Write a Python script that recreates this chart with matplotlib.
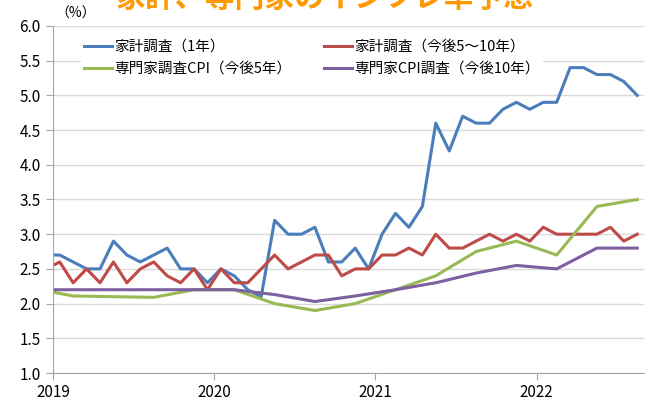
import numpy as np
import matplotlib
matplotlib.use("Agg")
import matplotlib.pyplot as plt

# ==========================================================
# Data (month index 0 = Jan 2019, points drawn at mid-month)
# ==========================================================

months = np.arange(-1, 44)          # Dec 2018 .. Aug 2022
quarters = np.arange(-2, 44, 3)     # expert surveys, every 3 months

household_1y = [2.7,
                2.7, 2.6, 2.5, 2.5, 2.9, 2.7, 2.6, 2.7, 2.8, 2.5, 2.5, 2.3,
                2.5, 2.4, 2.2, 2.1, 3.2, 3.0, 3.0, 3.1, 2.6, 2.6, 2.8, 2.5,
                3.0, 3.3, 3.1, 3.4, 4.6, 4.2, 4.7, 4.6, 4.6, 4.8, 4.9, 4.8,
                4.9, 4.9, 5.4, 5.4, 5.3, 5.3, 5.2, 5.0]
household_5_10y = [2.5,
                   2.6, 2.3, 2.5, 2.3, 2.6, 2.3, 2.5, 2.6, 2.4, 2.3, 2.5, 2.2,
                   2.5, 2.3, 2.3, 2.5, 2.7, 2.5, 2.6, 2.7, 2.7, 2.4, 2.5, 2.5,
                   2.7, 2.7, 2.8, 2.7, 3.0, 2.8, 2.8, 2.9, 3.0, 2.9, 3.0, 2.9,
                   3.1, 3.0, 3.0, 3.0, 3.0, 3.1, 2.9, 3.0]
expert_cpi_5y = [2.22, 2.11, 2.10, 2.09, 2.2, 2.2, 2.0, 1.9, 2.0, 2.2,
                 2.4, 2.75, 2.9, 2.7, 3.4, 3.5]
expert_cpi_10y = [2.2, 2.2, 2.2, 2.2, 2.2, 2.2, 2.13, 2.03, 2.11, 2.2,
                  2.3, 2.44, 2.55, 2.5, 2.8, 2.8]

year_labels = ["2019", "2020", "2021", "2022"]
labels = ["家計調査（1年）", "家計調査（今後5～10年）",
          "専門家調査CPI（今後5年）", "専門家CPI調査（今後10年）"]
colors = ["#4a7ebb", "#be4b48", "#98b954", "#7d60a0"]

plt.rcParams['font.family'] = ['Noto Sans CJK JP', 'DejaVu Sans']

# ==========================================================
# Figure
# ==========================================================

fig = plt.figure(figsize=(6.52, 4.01), dpi=100)
ax = fig.add_axes([0.0813, 0.0698, 0.9064, 0.8654])

l1, = ax.plot(months + 0.5, household_1y, color=colors[0], lw=2.2, label=labels[0])
l2, = ax.plot(months + 0.5, household_5_10y, color=colors[1], lw=2.2, label=labels[1])
l3, = ax.plot(quarters + 0.5, expert_cpi_5y, color=colors[2], lw=2.2, label=labels[2])
l4, = ax.plot(quarters + 0.5, expert_cpi_10y, color=colors[3], lw=2.2, label=labels[3])

ax.set_xlim(0, 44)
ax.set_ylim(1.0, 6.0)
ax.set_yticks(np.arange(1.0, 6.01, 0.5))
ax.set_yticklabels(["%.1f" % v for v in np.arange(1.0, 6.01, 0.5)])
ax.set_xticks([0, 12, 24, 36])
ax.set_xticklabels(year_labels)

ax.grid(axis='y', color='#d9d9d9', lw=1.0)
ax.set_axisbelow(True)
for s in ['top', 'right']:
    ax.spines[s].set_visible(False)
for s in ['left', 'bottom']:
    ax.spines[s].set_color('#a6a6a6')
ax.tick_params(axis='y', length=5, color='#a6a6a6', labelsize=11, pad=4)
ax.tick_params(axis='x', length=5, color='#a6a6a6', labelsize=11, pad=3)

ax.text(0.15, 6.08, "（%）", fontsize=10, ha='left', va='bottom')

# legend filled column-wise, so order handles to get blue/red on the first row
leg = ax.legend([l1, l3, l2, l4], [labels[0], labels[2], labels[1], labels[3]],
                loc='upper left', bbox_to_anchor=(0.035, 0.99), ncol=2,
                frameon=True, fontsize=10.5, handlelength=1.9,
                handletextpad=0.15, columnspacing=2.3, labelspacing=0.55,
                borderpad=0.2)
leg.get_frame().set_edgecolor('none')
leg.get_frame().set_facecolor('white')
leg.get_frame().set_alpha(1.0)

fig.text(0.498, 1.0 - 7 / 401, "家計、専門家のインフレ率予想", color='#ff9900',
         fontsize=21.5, fontweight='bold', ha='center', va='baseline')

plt.savefig("out.png", dpi=100)
